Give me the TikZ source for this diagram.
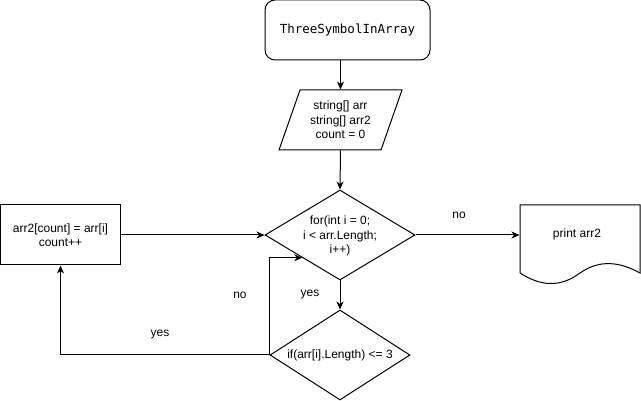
\documentclass[tikz,border=0pt]{standalone}
\usepackage{fontspec}
\setmainfont{Liberation Sans}
\setmonofont{DejaVu Sans Mono}
\usetikzlibrary{shapes.geometric,arrows.meta}
\begin{document}
\begin{tikzpicture}[x=1pt,y=-1pt, line width=1pt,
  txt/.style={font=\fontsize{12}{14.5}\selectfont, align=center, inner sep=0pt},
  arr/.style={-{Stealth[length=8pt,width=7pt,inset=2.5pt]}},
  dia/.style={draw, diamond, inner sep=0pt, minimum width=150pt, minimum height=90pt},
  ]
\useasboundingbox (0,0) rectangle (641,401);
\fill[white] (0,0) rectangle (641,401);

% start
\node[draw, rounded corners=10pt, minimum width=165pt, minimum height=60pt,
      font=\ttfamily\fontsize{12.5}{14}\selectfont] (start) at (347.5,30) {ThreeSymbolInArray};

% variables (parallelogram)
\node[txt, minimum width=102pt, minimum height=60pt] (vars) at (340.5,120) {string[] arr\\string[] arr2\\count = 0};
\draw (300,90) -- (402,90) -- (381,150) -- (279,150) -- cycle;

% for diamond
\node[dia] (fordia) at (340,235) {};
\node[txt] (fortxt) at (340,236) {for(int i = 0;\\i < arr.Length;\\i++)};

% if diamond
\node[dia, minimum width=140pt] (ifdia) at (340,355) {};
\node[txt] (iftxt) at (340,355) {if(arr[i].Length) <= 3};

% assignment box
\node[draw, txt, minimum width=120pt, minimum height=60pt] (inc) at (60.5,235) {arr2[count] = arr[i]\\count++};

% document
\node[minimum width=120pt, minimum height=68pt, inner sep=0pt] (doc) at (580,239) {};
\draw (520,273) -- (520,205) -- (640,205) -- (640,273)
  .. controls (620,262) and (600,259) .. (580,273)
  .. controls (560,288) and (540,286) .. (520,273);
\node[txt] (prt) at (577,234) {print arr2};

% connectors
\draw[arr] (vars.north |- start.south) -- (vars.north);
\draw[arr] (vars.south) -- (fordia.north);
\draw[arr] (inc.east) -- (fordia.west);
\draw[arr] (fordia.east) -- (fordia.east -| doc.west);
\draw[arr] (fordia.south) -- (ifdia.north);
\draw[arr] (ifdia.west) -| (inc.south);
\draw[arr] (ifdia.west) |- (fordia.south west);

% labels
\node[txt] (lno1) at (459,215) {no};
\node[txt] (lyes1) at (310,295) {yes};
\node[txt] (lno2) at (240,295) {no};
\node[txt] (lyes2) at (160,335) {yes};
\end{tikzpicture}
\end{document}
